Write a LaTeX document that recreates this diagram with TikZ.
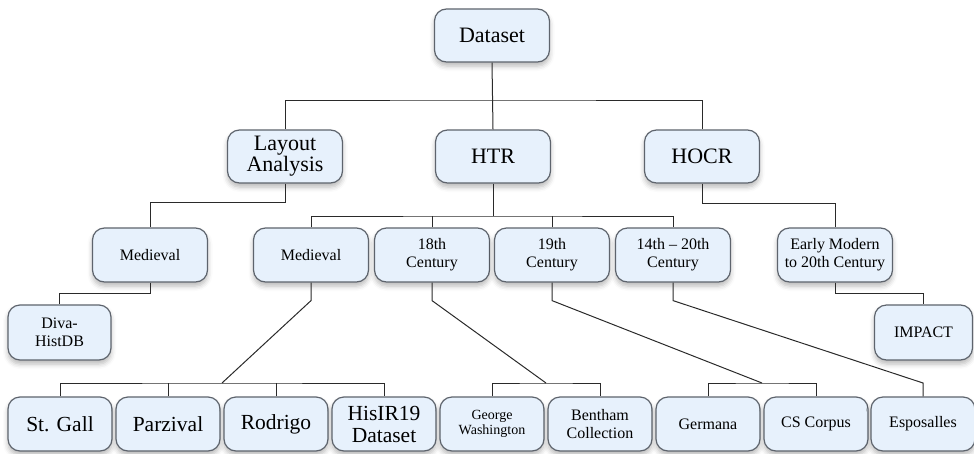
\documentclass[tikz,border=0pt]{standalone}
\usepackage{fontspec}
\setmainfont{Liberation Serif}
\usetikzlibrary{shadows.blur}

\definecolor{boxfill}{HTML}{E7F1FC}
\definecolor{boxline}{HTML}{5E646D}
\definecolor{wire}{HTML}{2A2A2A}

\tikzset{
  card/.style={rectangle, rounded corners=12pt, draw=boxline, fill=boxfill,
    line width=1.2pt, inner sep=0pt, align=center, text=black,
    blur shadow={shadow xshift=0pt, shadow yshift=-4pt, shadow blur radius=5pt, shadow opacity=28}},
  big/.style={card, minimum width=115pt, minimum height=53pt,
    font=\fontsize{22}{21}\selectfont},
  mid/.style={card, minimum width=115pt, minimum height=54pt,
    font=\fontsize{16}{18}\selectfont},
  leaf/.style={card, minimum width=104pt, minimum height=54pt,
    font=\fontsize{16}{18}\selectfont},
  leafbig/.style={leaf, font=\fontsize{21.5}{22}\selectfont},
  leafsmall/.style={leaf, font=\fontsize{14}{15.5}\selectfont},
  link/.style={draw=wire, line width=1pt}
}

\begin{document}
\begin{tikzpicture}[x=1pt,y=-1pt]
\useasboundingbox (0,0) rectangle (974,453);

% root and first level
\node[big] (ds)   at (492,35.5)  {Dataset};
\node[big] (la)   at (285,156.5) {Layout\\Analysis};
\node[big] (htr)  at (493,156.5) {HTR};
\node[big] (hocr) at (702,156.5) {HOCR};

% second level
\node[mid] (med1)  at (150,255) {Medieval};
\node[mid] (med2)  at (311,255) {Medieval};
\node[mid] (c18)   at (432,255) {18th\\Century};
\node[mid] (c19)   at (552,255) {19th\\Century};
\node[mid] (c1420) at (673,255) {14th – 20th\\Century};
\node[mid] (em)    at (835,255) {Early Modern\\to 20th Century};

% side datasets
\node[leaf, minimum width=103pt, minimum height=55pt] (diva)   at (59.5,332.5) {Diva-\\HistDB};
\node[leaf, minimum width=98pt,  minimum height=55pt] (impact) at (923.5,332.5) {IMPACT};

% bottom row
\node[leafbig]   (stgall)  at (60,424)  {St. Gall};
\node[leafbig]   (parz)    at (168,424) {Parzival};
\node[leafbig]   (rodr)    at (276,424) {Rodrigo};
\node[leafbig]   (hisir)   at (384,424) {HisIR19\\Dataset};
\node[leafsmall] (gw)      at (492,424) {George\\Washington};
\node[leaf]      (bentham) at (600,424) {Bentham\\Collection};
\node[leaf]      (germ)    at (708,424) {Germana};
\node[leaf]      (cs)      at (816,424) {CS Corpus};
\node[leaf]      (espo)    at (923,424) {Esposalles};

% bus coordinates
\coordinate (bus1) at (492,100);
\coordinate (bus2) at (493,216);
\coordinate (busA) at (222,383);
\coordinate (busB) at (546,383);
\coordinate (busC) at (762,383);
\coordinate (busD) at (923,383);

% top level
\draw[link] (ds.south) -- (htr.north);
\draw[link] (la.north) |- (bus1) -| (hocr.north);

% layout analysis branch
\draw[link] (la.south) -- ++(0,19) -| (med1.north);
\draw[link] (med1.south) -- ++(0,11) -| (diva.north);

% HTR branch
\draw[link] (htr.south) -- (htr.south |- bus2);
\draw[link] (med2.north) |- (bus2) -| (c1420.north);
\draw[link] (c18.north) -- (c18.north |- bus2);
\draw[link] (c19.north) -- (c19.north |- bus2);

% HOCR branch
\draw[link] (hocr.south) -- ++(0,20) -| (em.north);
\draw[link] (em.south) -- ++(0,11) -| (impact.north);

% medieval HTR datasets
\draw[link] (med2.south) -- ++(0,18) -- (busA);
\draw[link] (stgall.north) |- (busA) -| (hisir.north);
\draw[link] (parz.north) -- (parz.north |- busA);
\draw[link] (rodr.north) -- (rodr.north |- busA);

% 18th century datasets
\draw[link] (c18.south) -- ++(0,18) -- (busB);
\draw[link] (gw.north) |- (busB) -| (bentham.north);

% 19th century datasets
\draw[link] (c19.south) -- ++(0,18) -- (busC);
\draw[link] (germ.north) |- (busC) -| (cs.north);

% 14th--20th century dataset
\draw[link] (c1420.south) -- ++(0,18) -- (busD) -- (espo.north);
\end{tikzpicture}
\end{document}
